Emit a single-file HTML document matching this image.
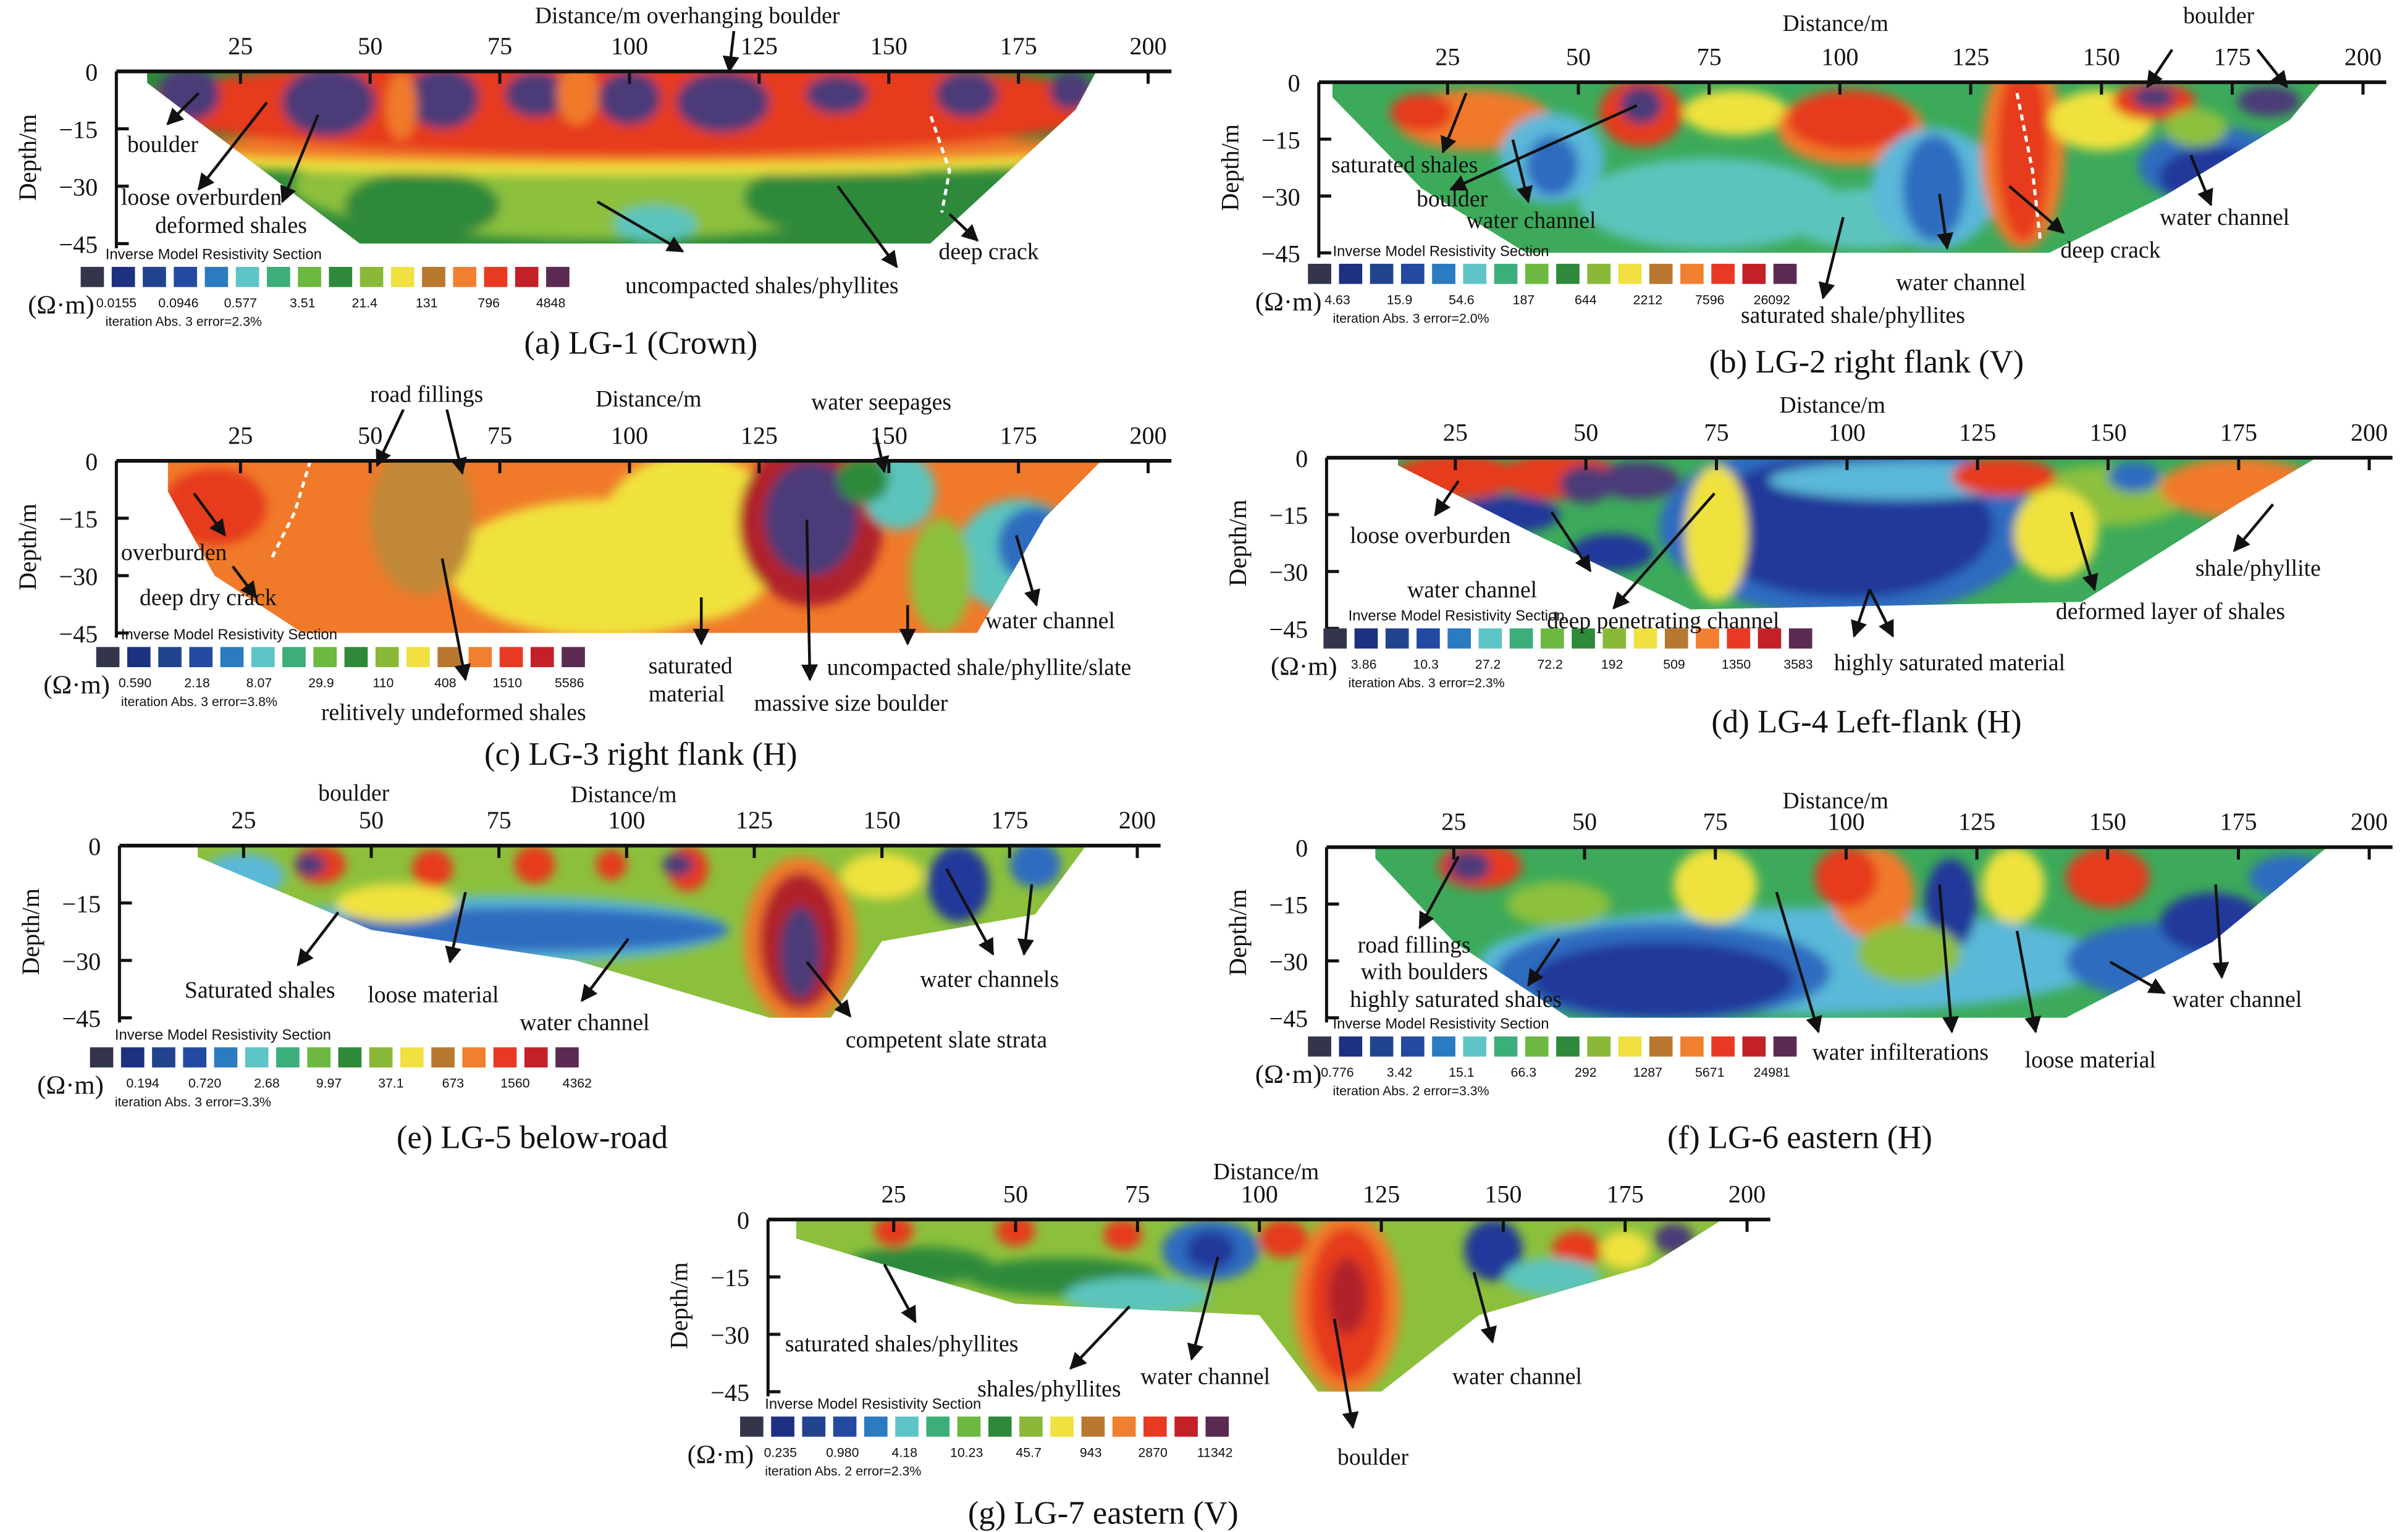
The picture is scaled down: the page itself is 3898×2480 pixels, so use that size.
<!DOCTYPE html>
<html><head><meta charset="utf-8"><style>
html,body{margin:0;padding:0;background:#fff}
svg{display:block}
text{font-family:"Liberation Serif",serif;fill:#111}
.sm{font-family:"Liberation Sans",sans-serif}
</style></head><body>
<svg id="fig" xmlns="http://www.w3.org/2000/svg" width="3898" height="2480" viewBox="0 0 1552 987.4">
<defs>
<filter id="bl" x="-20%" y="-20%" width="140%" height="140%"><feGaussianBlur stdDeviation="3.4"/></filter>
<marker id="ah" viewBox="0 0 10 10" refX="9" refY="5" markerWidth="6" markerHeight="6" orient="auto"><path d="M0,0 L10,5 L0,10 z" fill="#111"/></marker>
</defs>
</svg>
<script>
const PAL=['#4b3a78','#e63a1e','#f07a2a','#f0e23c','#8cc03c','#2e8a3a','#3caa5a','#5cc4bc','#5ab8d8','#2e6cc0','#24389a','#c08838','#b0202a'];
const LEG=['#33364a','#1e3080','#22448f','#2349a0','#2a7bc0','#5ec4c8','#3cae7a','#6cb840','#2e8a3a','#8ab838','#f0e040','#b87830','#f08030','#e83a22','#c42028','#5a2a50'];
const ticksX=[25,50,75,100,125,150,175,200];
const ticksD=[0,-15,-30,-45];
// panel data: section outline [distance, depth], blobs [distance, depth, rDist, rDepth, colour]
const sectA=[[7,0],[190,0],[186,-10],[158,-45],[48,-45],[7,-3]];
const blobsA=[[95,-30,60,14,4],[60,-35,15,9,5],[140,-33,18,10,5],[105,-40,8,5,7],[100,-23,92,4,3],[100,-20,92,4,2],[100,-9,95,13,1],[15,-6,6,7,0],[42,-8,9,9,0],[64,-7,7,8,0],[82,-6,6,6,0],[100,-7,6,7,0],[118,-8,9,8,0],[140,-6,6,5,0],[165,-6,6,6,0],[185,-5,4,5,0],[90,-6,4,8,2],[56,-9,3,9,2]];
const sectB=[[3,0],[192,0],[186,-10],[162,-30],[140,-45],[40,-45],[20,-28],[3,-4]];
const blobsB=[[30,-10,15,8,2],[20,-8,6,5,1],[75,-32,25,12,7],[105,-36,15,8,7],[45,-20,10,12,8],[45,-22,5,8,9],[62,-8,8,9,1],[62,-6,4,5,0],[80,-8,10,6,3],[102,-12,14,10,2],[102,-10,12,8,1],[118,-28,12,16,8],[118,-28,6,14,9],[135,-18,8,26,2],[135,-18,5,24,1],[150,-10,10,8,3],[172,-22,15,10,9],[172,-25,11,8,10],[160,-5,8,5,1],[182,-5,6,4,0],[160,-4,4,3,0],[168,-12,6,5,4]];
const sectC=[[11,0],[191,0],[180,-15],[167,-45],[37,-45],[20,-30],[11,-8]];
const blobsC=[[95,-28,30,18,3],[112,-20,18,22,3],[60,-15,10,20,11],[20,-12,10,10,1],[135,-16,14,22,12],[135,-15,9,15,0],[152,-8,7,10,7],[175,-25,12,15,7],[178,-22,7,10,9],[160,-30,6,15,4],[145,-5,5,6,5]];
const sectD=[[14,0],[190,0],[175,-12],[145,-38],[70,-40],[40,-20],[14,-2]];
const blobsD=[[100,-18,36,24,9],[100,-18,28,19,10],[25,-5,12,6,1],[45,-5,12,6,1],[50,-7,5,5,0],[60,-6,8,5,0],[35,-15,10,5,10],[55,-25,8,5,10],[75,-20,6,18,3],[110,-6,25,5,8],[150,-10,15,8,4],[175,-8,15,8,2],[140,-20,8,12,3],[155,-5,5,4,9],[130,-5,10,5,1]];
const sectE=[[16,0],[190,0],[180,-18],[150,-25],[140,-45],[128,-45],[90,-30],[50,-22],[16,-3]];
const blobsE=[[75,-22,45,9,8],[80,-22,40,6,9],[134,-25,11,22,2],[134,-25,8,18,12],[134,-28,4,12,0],[40,-5,5,5,1],[38,-5,3,3,0],[62,-6,4,5,1],[82,-5,4,5,1],[97,-5,3,4,1],[112,-6,4,6,1],[110,-5,3,3,0],[165,-10,6,10,10],[180,-5,5,6,9],[150,-8,8,6,3],[25,-8,8,6,8],[55,-15,12,5,3]];
const sectF=[[10,0],[192,0],[170,-25],[142,-45],[47,-45],[25,-25],[10,-3]];
const blobsF=[[90,-30,60,14,8],[65,-33,32,13,9],[65,-35,25,10,10],[160,-30,18,10,9],[170,-20,10,8,10],[30,-5,8,6,1],[28,-5,4,4,0],[75,-10,8,10,3],[105,-12,8,12,2],[100,-8,6,8,1],[120,-15,5,12,10],[132,-10,6,10,3],[150,-8,8,8,1],[45,-15,10,6,4],[185,-8,8,6,9],[112,-28,10,8,4]];
const sectG=[[5,0],[195,0],[180,-12],[145,-25],[125,-45],[112,-45],[100,-25],[50,-22],[5,-5]];
const blobsG=[[118,-22,11,24,2],[118,-22,8,20,1],[118,-20,4,10,12],[90,-8,10,8,9],[90,-8,5,5,10],[148,-8,6,8,10],[60,-15,20,5,5],[30,-12,15,5,5],[75,-20,15,5,7],[25,-3,4,4,1],[50,-3,4,4,1],[72,-4,4,4,1],[105,-5,5,5,1],[165,-8,5,5,1],[175,-8,5,5,3],[185,-5,4,4,0],[160,-15,10,5,7]];
const valsA=['0.0155','0.0946','0.577','3.51','21.4','131','796','4848'];
const valsB=['4.63','15.9','54.6','187','644','2212','7596','26092'];
const valsC=['0.590','2.18','8.07','29.9','110','408','1510','5586'];
const valsD=['3.86','10.3','27.2','72.2','192','509','1350','3583'];
const valsE=['0.194','0.720','2.68','9.97','37.1','673','1560','4362'];
const valsF=['0.776','3.42','15.1','66.3','292','1287','5671','24981'];
const valsG=['0.235','0.980','4.18','10.23','45.7','943','2870','11342'];

const panels=[
 {id:'a',x25:155,x200:740,top:46,b45:157,ax:75,sect:sectA,blobs:blobsA,base:5,lx:52,ly:172,vals:valsA,vx:75,err:'iteration Abs. 3 error=2.3%',cap:'(a) LG-1 (Crown)',cx:413,cy:228,
  ann:[['Distance/m overhanging boulder',443,15,'m',[[473,20,470,46]]],['boulder',82,98,'s',[[128,60,108,80]]],['loose overburden',78,132,'s',[[172,66,128,122]]],['deformed shales',100,150,'s',[[205,74,182,130]]],['deep crack',605,167,'s',[[612,138,630,155]]],['uncompacted shales/phyllites',403,189,'s',[[385,130,440,162],[540,120,578,172]]]],crack:[[600,75],[612,110],[607,137]]},
 {id:'b',x25:933,x200:1523,top:53,b45:163,ax:850,sect:sectB,blobs:blobsB,base:6,lx:843,ly:170,vals:valsB,vx:862,err:'iteration Abs. 3 error=2.0%',cap:'(b) LG-2 right flank (V)',cx:1203,cy:240,
  ann:[['Distance/m',1183,20,'m',[]],['boulder',1430,15,'m',[[1400,32,1384,56],[1455,32,1474,56]]],['saturated shales',858,111,'s',[[945,60,930,98]]],['boulder',913,133,'s',[[1055,68,935,122]]],['water channel',945,147,'s',[[975,90,985,130]]],['deep crack',1328,166,'s',[[1295,120,1330,150]]],['water channel',1392,145,'s',[[1412,100,1425,132]]],['water channel',1222,187,'s',[[1250,125,1255,160]]],['saturated shale/phyllites',1122,208,'s',[[1188,140,1175,192]]]],crack:[[1300,60],[1310,110],[1315,155]]},
 {id:'c',x25:155,x200:740,top:297,b45:408,ax:75,sect:sectC,blobs:blobsC,base:2,lx:62,ly:417,vals:valsC,vx:87,err:'iteration Abs. 3 error=3.8%',cap:'(c) LG-3 right flank (H)',cx:413,cy:493,
  ann:[['road fillings',275,259,'m',[[260,264,243,300],[288,264,298,305]]],['Distance/m',418,262,'m',[]],['water seepages',568,264,'m',[[565,282,570,304]]],['overburden',78,361,'s',[[125,318,145,345]]],['deep dry crack',90,390,'s',[[150,365,165,385]]],['water channel',635,405,'s',[[655,345,668,390]]],['saturated',418,434,'s',[[452,385,452,415]]],['material',418,452,'s',[]],['uncompacted shale/phyllite/slate',533,435,'s',[[585,390,585,415]]],['massive size boulder',486,458,'s',[[520,335,522,438]]],['relitively undeformed shales',207,464,'s',[[285,360,300,438]]]],crack:[[200,297],[190,330],[175,360]]},
 {id:'d',x25:938,x200:1527,top:295,b45:405,ax:855,sect:sectD,blobs:blobsD,base:6,lx:853,ly:405,vals:valsD,vx:879,err:'iteration Abs. 3 error=2.3%',cap:'(d) LG-4 Left-flank (H)',cx:1203,cy:472,
  ann:[['Distance/m',1181,266,'m',[]],['loose overburden',870,350,'s',[[940,310,925,332]]],['water channel',907,385,'s',[[1000,330,1025,368]]],['deep penetrating channel',997,405,'s',[[1105,318,1040,392]]],['shale/phyllite',1415,371,'s',[[1465,325,1440,355]]],['deformed layer of shales',1325,399,'s',[[1335,330,1350,380]]],['highly saturated material',1182,432,'s',[[1205,380,1195,410],[1205,380,1220,410]]]]},
 {id:'e',x25:157,x200:733,top:545,b45:656,ax:77,sect:sectE,blobs:blobsE,base:4,lx:58,ly:675,vals:valsE,vx:92,err:'iteration Abs. 3 error=3.3%',cap:'(e) LG-5 below-road',cx:343,cy:740,
  ann:[['boulder',228,516,'m',[]],['Distance/m',402,517,'m',[]],['Saturated shales',119,643,'s',[[218,588,192,622]]],['loose material',237,646,'s',[[300,575,290,620]]],['water channel',335,664,'s',[[405,605,375,645]]],['water channels',593,636,'s',[[610,560,640,615],[665,570,660,615]]],['competent slate strata',545,675,'s',[[520,620,548,655]]]]},
 {id:'f',x25:937,x200:1527,top:546,b45:656,ax:855,sect:sectF,blobs:blobsF,base:6,lx:843,ly:668,vals:valsF,vx:862,err:'iteration Abs. 2 error=3.3%',cap:'(f) LG-6 eastern (H)',cx:1160,cy:740,
  ann:[['Distance/m',1183,521,'m',[]],['road fillings',875,614,'s',[[940,552,915,598]]],['with boulders',877,631,'s',[]],['highly saturated shales',870,649,'s',[[1005,605,985,635]]],['water infilterations',1168,683,'s',[[1145,575,1172,665],[1250,570,1258,665]]],['loose material',1305,688,'s',[[1300,600,1312,665]]],['water channel',1400,649,'s',[[1428,570,1432,630],[1360,620,1395,640]]]]},
 {id:'g',x25:576,x200:1126,top:786,b45:897,ax:495,sect:sectG,blobs:blobsG,base:4,lx:477,ly:913,vals:valsG,vx:503,err:'iteration Abs. 2 error=2.3%',cap:'(g) LG-7 eastern (V)',cx:711,cy:982,
  ann:[['Distance/m',816,760,'m',[]],['saturated shales/phyllites',506,871,'s',[[570,815,590,852]]],['shales/phyllites',630,900,'s',[[728,842,690,882]]],['water channel',735,892,'s',[[785,810,768,876]]],['boulder',862,944,'s',[[860,850,872,920]]],['water channel',936,892,'s',[[950,820,962,865]]]]}
];
const svg=document.getElementById('fig');
const NS='http://www.w3.org/2000/svg';
function mk(tag,attrs,parent){const e=document.createElementNS(NS,tag);for(const k in attrs)e.setAttribute(k,attrs[k]);(parent||svg).appendChild(e);return e;}
panels.forEach(p=>{
  const s=(p.x200-p.x25)/175, x0=p.x25-25*s, ds=(p.b45-p.top)/45;
  const X=d=>x0+d*s, Y=z=>p.top-z*ds;
  const g=mk('g',{});
  
  
  const cp=mk('clipPath',{id:'clip'+p.id},g);
  const pts=p.sect.map(q=>X(q[0]).toFixed(1)+','+Y(q[1]).toFixed(1)).join(' ');
  mk('polygon',{points:pts},cp);
  const sec=mk('g',{'clip-path':'url(#clip'+p.id+')'},g);
  
  
  mk('polygon',{points:pts,fill:PAL[p.base]},sec);
  const bg=mk('g',{filter:'url(#bl)'},sec);
  p.blobs.forEach(b=>{
    const e=mk('ellipse',{cx:X(b[0]),cy:Y(b[1]),rx:b[2]*s,ry:b[3]*ds,fill:PAL[b[4]]},bg);
    
    
  });
  if(p.crack){mk('polyline',{points:p.crack.map(c=>c.join(',')).join(' '),fill:'none',stroke:'#fff','stroke-width':2,'stroke-dasharray':'4,3'},g);}
  const ax=mk('g',{},g);
  
  
  mk('line',{x1:p.ax,y1:p.top,x2:p.x200+15,y2:p.top,stroke:'#111','stroke-width':2.4},ax);
  mk('line',{x1:p.ax,y1:p.top,x2:p.ax,y2:p.b45+3,stroke:'#111','stroke-width':2},ax);
  ticksX.forEach(t=>{
    mk('line',{x1:X(t),y1:p.top,x2:X(t),y2:p.top+8,stroke:'#111','stroke-width':2},ax);
    const tx=mk('text',{x:X(t),y:p.top-11,'text-anchor':'middle','font-size':16},ax);tx.textContent=t;
  });
  ticksD.forEach(t=>{
    if(t!==0)mk('line',{x1:p.ax,y1:Y(t),x2:p.ax+8,y2:Y(t),stroke:'#111','stroke-width':2},ax);
    const tx=mk('text',{x:p.ax-12,y:Y(t)+6,'text-anchor':'end','font-size':16},ax);tx.textContent=t===0?'0':'\u2212'+(-t);
  });
  const yt=mk('text',{x:0,y:0,'text-anchor':'middle','font-size':16,transform:`translate(${p.ax-52},${(p.top+p.b45)/2}) rotate(-90)`},ax);
  yt.textContent='Depth/m';
  
  const lg=mk('g',{},g);
  
  
  const lt=mk('text',{x:p.lx+16,y:p.ly-5,'font-size':9.5,class:'sm'},lg);lt.textContent='Inverse Model Resistivity Section';
  LEG.forEach((c,i)=>mk('rect',{x:p.lx+i*20,y:p.ly,width:15,height:13,fill:c},lg));
  p.vals.forEach((v,i)=>{const t=mk('text',{x:p.vx+i*40,y:p.ly+26,'font-size':8.5,'text-anchor':'middle',class:'sm'},lg);t.textContent=v;});
  const om=mk('text',{x:p.lx-34,y:p.ly+30,'font-size':17},lg);om.textContent='(\u03a9\u00b7m)';
  const er=mk('text',{x:p.lx+16,y:p.ly+38,'font-size':8.5,class:'sm'},lg);er.textContent=p.err;
  p.ann.forEach(a=>{
    const t=mk('text',{x:a[1],y:a[2],'font-size':15,'text-anchor':a[3]==='m'?'middle':'start'},g);t.textContent=a[0];
    
    
    a[4].forEach(l=>mk('line',{x1:l[0],y1:l[1],x2:l[2],y2:l[3],stroke:'#111','stroke-width':1.8,'marker-end':'url(#ah)'},g));
  });
  const cap=mk('text',{x:p.cx,y:p.cy,'text-anchor':'middle','font-size':21},g);cap.textContent=p.cap;
  
  
});
</script>
</body></html>
